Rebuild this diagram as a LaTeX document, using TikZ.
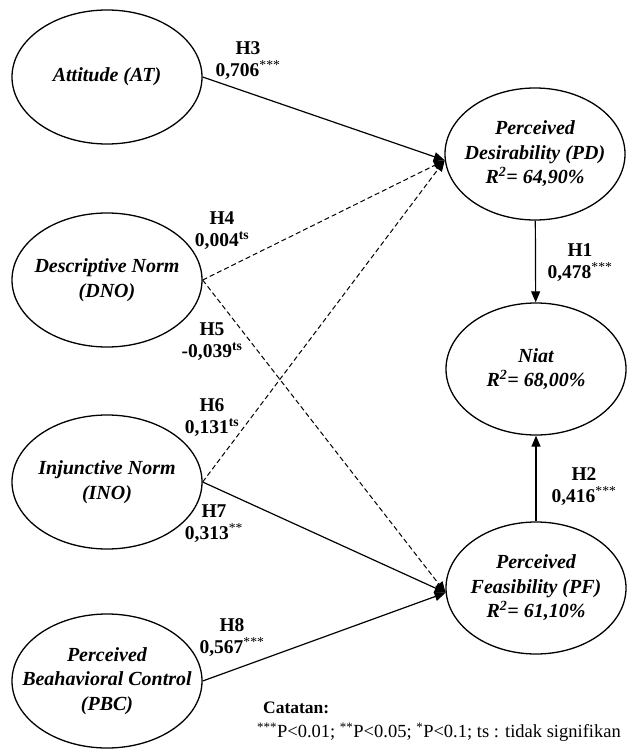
\documentclass[tikz,border=0pt]{standalone}
\usepackage{fontspec}
\setmainfont{Liberation Serif}
\usetikzlibrary{arrows.meta,shapes.geometric}

\tikzset{
  konstruk/.style={draw,ellipse,line width=1.3pt,inner xsep=-18pt,inner ysep=0pt,minimum width=190pt,minimum height=134pt,
    align=center,font=\fontsize{20}{24.5}\selectfont\bfseries\itshape},
  kanan/.style={konstruk,minimum width=180pt,minimum height=132pt},
  jalur/.style={line width=1.2pt,-{Triangle[length=11pt,width=9pt]}},
  putus/.style={jalur,line width=1pt,dash pattern=on 5pt off 3pt},
  hipo/.style={align=center,inner sep=0pt,font=\fontsize{19.5}{22}\selectfont\bfseries}
}
\newcommand{\sig}[1]{\textsuperscript{\mdseries #1}}

\begin{document}
\begin{tikzpicture}[x=1pt,y=-1pt]
\useasboundingbox (0,0) rectangle (626,749);

\foreach \nm/\yy/\txt in {AT/77/{Attitude (AT)},DNO/280/{Descriptive Norm\\(DNO)},
  INO/482/{Injunctive Norm\\(INO)},PBC/681/{Perceived\\Beahavioral Control\\(PBC)}}
 \node[konstruk] (\nm) at (107,\yy) {\txt};

\node[kanan] (PD) at (535,154) {Perceived\\Desirability (PD)\\R\textsuperscript{2}= 64,90\%};
\node[kanan] (Niat) at (536,369) {Niat\\R\textsuperscript{2}= 68,00\%};
\node[kanan] (PF) at (536,588) {Perceived\\Feasibility (PF)\\R\textsuperscript{2}= 61,10\%};

\draw[jalur] (AT.east) -- (PD.184);
\draw[putus] (DNO.east) -- (PD.184);
\draw[putus] (INO.east) -- (PD.184);
\draw[putus] (DNO.east) -- (PF.183);
\draw[jalur] (INO.east) -- (PF.183);
\draw[jalur] (PBC.east) -- (PF.183);
\draw[jalur] (PD) -- (Niat);
\draw[jalur] (PF) -- (Niat);

\node[hipo] (h3) at (248,61) {H3\\0,706\sig{***}};
\node[hipo] (h4) at (222,231) {H4\\0,004\textsuperscript{ts}};
\node[hipo] (h5) at (212,342) {H5\\-0,039\textsuperscript{ts}};
\node[hipo] (h6) at (212,418) {H6\\0,131\textsuperscript{ts}};
\node[hipo] (h7) at (214,524) {H7\\0,313\sig{**}};
\node[hipo] (h8) at (232,638) {H8\\0,567\sig{***}};
\node[hipo] (h1) at (580,263) {H1\\0,478\sig{***}};
\node[hipo] (h2) at (584,487) {H2\\0,416\sig{***}};

\node[anchor=west,inner sep=0pt,font=\fontsize{17.5}{20}\selectfont\bfseries] (catatan) at (263,708) {Catatan:};
\node[anchor=west,inner sep=0pt,font=\fontsize{18.5}{20}\selectfont] (ket) at (257,732)
  {\textsuperscript{***}P<0.01; \textsuperscript{**}P<0.05; \textsuperscript{*}P<0.1; ts : tidak signifikan};

\end{tikzpicture}
\end{document}
